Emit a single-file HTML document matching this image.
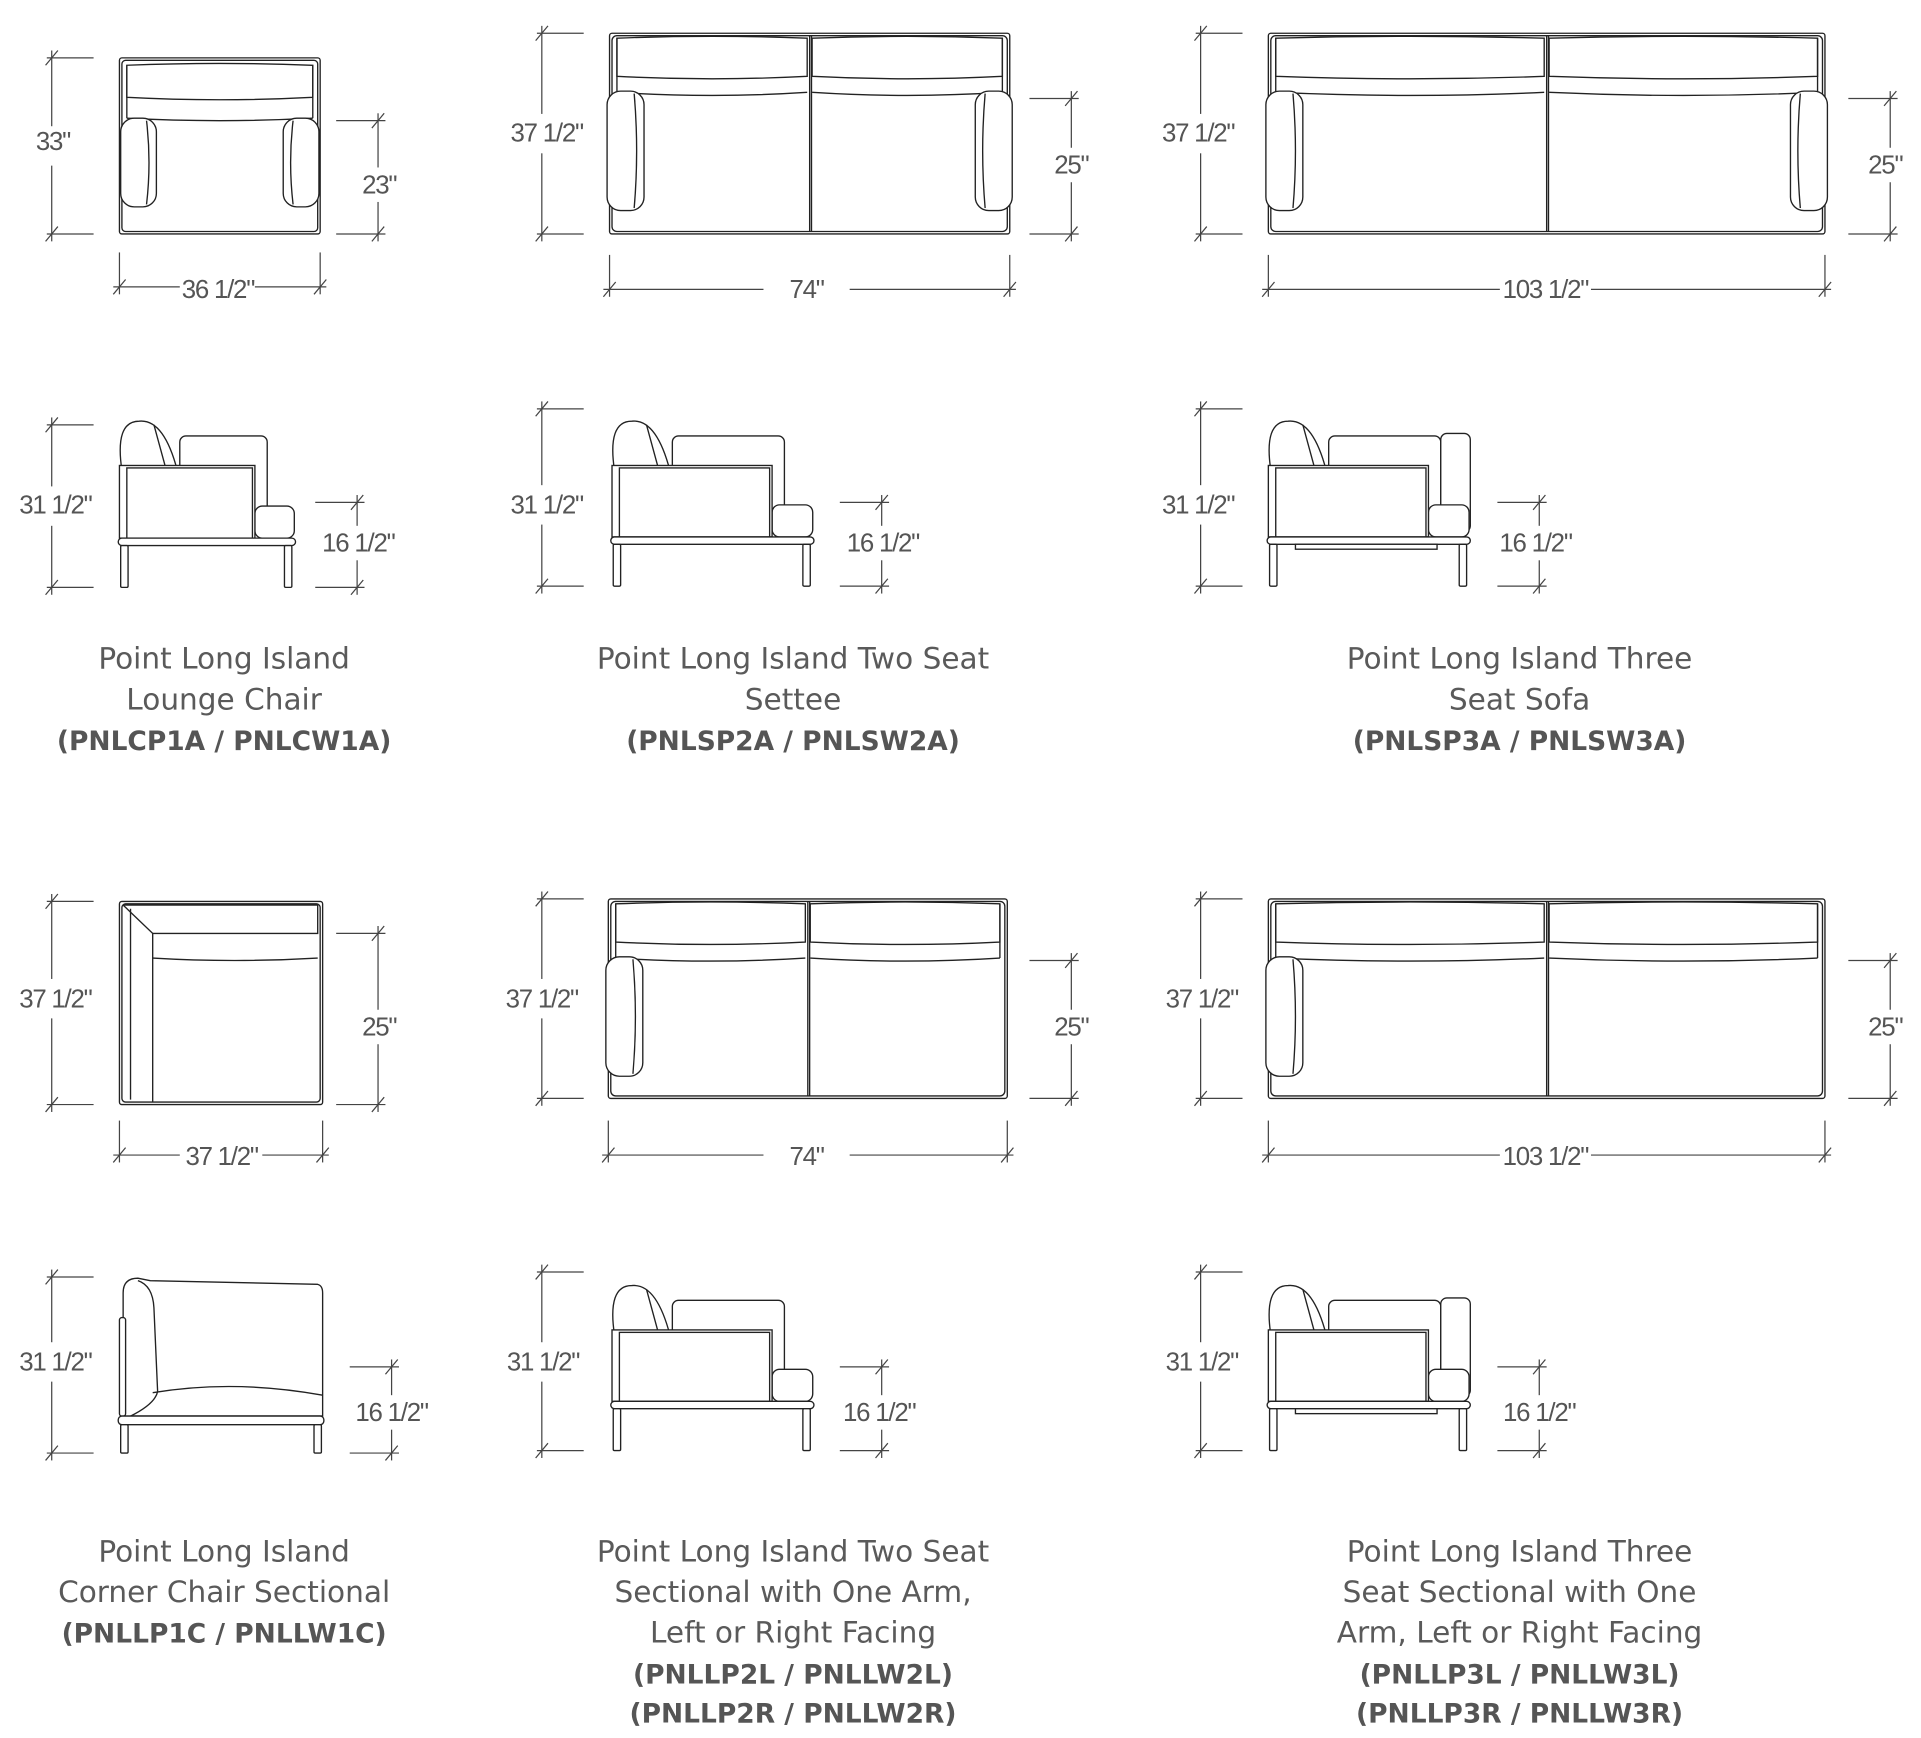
<!DOCTYPE html>
<html><head><meta charset="utf-8">
<style>
html,body{margin:0;padding:0;background:#fff;}
svg{display:block;}
.d{font-family:"Liberation Sans",sans-serif;font-size:21px;fill:#555;letter-spacing:-1px;}
.t{font-family:"DejaVu Sans","Liberation Sans",sans-serif;font-size:24px;fill:#5a5a5a;text-anchor:middle;}
.b{font-family:"DejaVu Sans","Liberation Sans",sans-serif;font-size:21.5px;fill:#555;font-weight:bold;text-anchor:middle;}
</style></head>
<body>
<svg id="s" width="1921" height="1738" viewBox="0 0 1560 1411.4" preserveAspectRatio="none" xmlns="http://www.w3.org/2000/svg">
<g id="shapes" fill="#fff" stroke="#222" stroke-width="1.1"></g>
<g id="dims" fill="none" stroke="#444" stroke-width="1"></g>
<g class="d">
<text x="43" y="122" text-anchor="middle">33"</text>
<text x="308" y="157" text-anchor="middle">23"</text>
<text x="177" y="242" text-anchor="middle">36 1/2"</text>
<text x="444" y="115" text-anchor="middle">37 1/2"</text>
<text x="870" y="141" text-anchor="middle">25"</text>
<text x="655" y="242" text-anchor="middle">74"</text>
<text x="973" y="115" text-anchor="middle">37 1/2"</text>
<text x="1531" y="141" text-anchor="middle">25"</text>
<text x="1255" y="242" text-anchor="middle">103 1/2"</text>

<text x="45" y="417" text-anchor="middle">31 1/2"</text>
<text x="291" y="448" text-anchor="middle">16 1/2"</text>
<text x="444" y="417" text-anchor="middle">31 1/2"</text>
<text x="717" y="448" text-anchor="middle">16 1/2"</text>
<text x="973" y="417" text-anchor="middle">31 1/2"</text>
<text x="1247" y="448" text-anchor="middle">16 1/2"</text>

<text x="45" y="818" text-anchor="middle">37 1/2"</text>
<text x="308" y="841" text-anchor="middle">25"</text>
<text x="180" y="946" text-anchor="middle">37 1/2"</text>
<text x="440" y="818" text-anchor="middle">37 1/2"</text>
<text x="870" y="841" text-anchor="middle">25"</text>
<text x="655" y="946" text-anchor="middle">74"</text>
<text x="976" y="818" text-anchor="middle">37 1/2"</text>
<text x="1531" y="841" text-anchor="middle">25"</text>
<text x="1255" y="946" text-anchor="middle">103 1/2"</text>

<text x="45" y="1113" text-anchor="middle">31 1/2"</text>
<text x="318" y="1154" text-anchor="middle">16 1/2"</text>
<text x="441" y="1113" text-anchor="middle">31 1/2"</text>
<text x="714" y="1154" text-anchor="middle">16 1/2"</text>
<text x="976" y="1113" text-anchor="middle">31 1/2"</text>
<text x="1250" y="1154" text-anchor="middle">16 1/2"</text>
</g>
<text class="t" x="182" y="543">Point Long Island</text>
<text class="t" x="182" y="576">Lounge Chair</text>
<text class="b" x="182" y="609">(PNLCP1A / PNLCW1A)</text>
<text class="t" x="644" y="543">Point Long Island Two Seat</text>
<text class="t" x="644" y="576">Settee</text>
<text class="b" x="644" y="609">(PNLSP2A / PNLSW2A)</text>
<text class="t" x="1234" y="543">Point Long Island Three</text>
<text class="t" x="1234" y="576">Seat Sofa</text>
<text class="b" x="1234" y="609">(PNLSP3A / PNLSW3A)</text>

<text class="t" x="182" y="1268">Point Long Island</text>
<text class="t" x="182" y="1301">Corner Chair Sectional</text>
<text class="b" x="182" y="1334">(PNLLP1C / PNLLW1C)</text>
<text class="t" x="644" y="1268">Point Long Island Two Seat</text>
<text class="t" x="644" y="1301">Sectional with One Arm,</text>
<text class="t" x="644" y="1334">Left or Right Facing</text>
<text class="b" x="644" y="1367">(PNLLP2L / PNLLW2L)</text>
<text class="b" x="644" y="1399">(PNLLP2R / PNLLW2R)</text>
<text class="t" x="1234" y="1268">Point Long Island Three</text>
<text class="t" x="1234" y="1301">Seat Sectional with One</text>
<text class="t" x="1234" y="1334">Arm, Left or Right Facing</text>
<text class="b" x="1234" y="1367">(PNLLP3L / PNLLW3L)</text>
<text class="b" x="1234" y="1399">(PNLLP3R / PNLLW3R)</text>
</svg>
<script>
var S=[],D=[];
function L(a,x1,y1,x2,y2){a.push('<line x1="'+x1+'" y1="'+y1+'" x2="'+x2+'" y2="'+y2+'"/>');}
function R(x,y,w,h,rx){S.push('<rect x="'+x+'" y="'+y+'" width="'+w+'" height="'+h+'" rx="'+(rx||0)+'"/>');}
function P(d,nf){S.push('<path d="'+d+'"'+(nf?' fill="none"':'')+'/>');}
function tick(x,y){L(D,x-5,y+6,x+5,y-6);}
function vdim(x,y1,y2,side,gc,gw){
  var e1=side=='L'?x-4:x-34, e2=side=='L'?x+34:x+6;
  L(D,e1,y1,e2,y1);L(D,e1,y2,e2,y2);
  gc=gc||(y1+y2)/2;gw=gw||16;
  L(D,x,y1-6,x,gc-gw);L(D,x,gc+gw,x,y2+6);tick(x,y1);tick(x,y2);
}
function hdim(y,x1,x2,g1,g2){
  L(D,x1,y-28,x1,y+6);L(D,x2,y-28,x2,y+6);
  L(D,x1-5,y,g1,y);L(D,g2,y,x2+5,y);tick(x1,y);tick(x2,y);
}
function arm(x,y,w,h,right){
  R(x,y,w,h,11);
  if(right){P('M'+(x+8)+' '+(y+2)+' Q'+(x+4)+' '+(y+h/2)+' '+(x+8)+' '+(y+h-2),1);}
  else{P('M'+(x+w-8)+' '+(y+2)+' Q'+(x+w-4)+' '+(y+h/2)+' '+(x+w-8)+' '+(y+h-2),1);}
}
function topSofa(x0,y0,w,h,n,arms){
  R(x0,y0,w,h,2);R(x0+2,y0+2,w-4,h-4,4);
  var cw=(w-8)/n;
  for(var i=0;i<n;i++){
    var cx=x0+4+i*cw;
    P('M'+(cx+2)+' '+(y0+4)+' Q'+(cx+cw/2)+' '+(y0+1)+' '+(cx+cw-2)+' '+(y0+4)+' L'+(cx+cw-2)+' '+(y0+35)+' Q'+(cx+cw/2)+' '+(y0+39)+' '+(cx+2)+' '+(y0+35)+' Z',1);
    P('M'+(cx+2)+' '+(y0+48)+' Q'+(cx+cw/2)+' '+(y0+53)+' '+(cx+cw-2)+' '+(y0+48),1);
    if(i>0){L(S,cx,y0+2,cx,y0+h-2);L(S,cx+1.5,y0+2,cx+1.5,y0+h-2);}
  }
  L(S,x0+6,y0+4,x0+6,y0+48);L(S,x0+w-6,y0+4,x0+w-6,y0+48);
  var ah=97;
  if(arms>0)arm(x0-2,y0+47,30,ah,false);
  if(arms>1)arm(x0+w-28,y0+47,30,ah,true);
}
R(97,47,163,143,2);R(99,49,159,139,3);
P('M103 53 Q178 50 254 53 L254 79 Q178 83 103 79 Z',1);
P('M103 96 Q178 100 254 96',1);L(S,103,53,103,96);L(S,254,53,254,96);
arm(98,96,29,72,false);arm(230,96,29,72,true);
topSofa(495,27,325,163,2,2);
topSofa(1030,27,452,163,2,2);
R(97,732,165,165,2);R(99,734,161,161,3);
P('M100 735 L124 758 L124 895',1);P('M100 735 L258 735 L258 758 L124 758',1);
P('M124 778 Q190 782 258 778',1);L(S,106,738,106,893);
topSofa(494,730,324,162,2,1);
topSofa(1030,730,452,162,2,1);

function side(x0,fw,tw,ft,fb,extra){
  var rail=fb-40;
  P('M'+(x0+2)+' '+(ft+4)+' Q'+(x0-4)+' '+(ft-36)+' '+(x0+16)+' '+(ft-36)+' Q'+(x0+36)+' '+(ft-38)+' '+(x0+47)+' '+(ft+4)+' Z');
  P('M'+(x0+28)+' '+(ft-33)+' L'+(x0+37)+' '+(ft),1);
  var cx=x0+49,cr=x0+fw+10;
  R(cx,ft-24,cr-cx,rail-ft-4+24,5);
  if(extra){R(cr,ft-26,24,rail-ft-4+26,5);}
  R(x0+fw,rail-26,tw-fw,26,6);
  R(x0,ft,fw,rail-ft);R(x0+6,ft+2,fw-8,rail-ft-2);
  R(x0-1,rail,tw+2,6,3);
  if(extra){R(x0+22,rail+6,tw-48,4);}
  R(x0+1,rail+6,6,fb-rail-6,1);R(x0+tw-8,rail+6,6,fb-rail-6,1);
}
side(97,110,142,378,477,false);
side(497,130,163,378,476,false);
side(1030,130,163,378,476,true);
side(497,130,163,1080,1178,false);
side(1030,130,163,1080,1178,true);
P('M100 1150 L100 1050 Q100 1038 112 1038 L122 1040 L258 1043 Q262 1044 262 1050 L262 1150 Z');
P('M112 1040 Q124 1044 125 1062 L128 1130 Q126 1140 106 1150',1);
P('M124 1131 Q190 1120 262 1133',1);L(S,106,1150,262,1150);
R(97,1070,5,80,2);
R(96,1150,167,7,3);R(98,1157,6,23,1);R(255,1157,6,23,1);

vdim(42,47,190,'L');vdim(307,98,190,'R',150,14);hdim(233,97,260,146,207);
vdim(440,27,190,'L');vdim(870,80,190,'R',134,14);hdim(235,495,820,620,690);
vdim(975,27,190,'L');vdim(1535,80,190,'R',134,14);hdim(235,1030,1482,1218,1292);
vdim(42,345,477,'L',411);vdim(290,408,477,'R',441,14);
vdim(440,332,476,'L',410);vdim(716,408,476,'R',441,14);
vdim(975,332,476,'L',410);vdim(1250,408,476,'R',441,14);
vdim(42,732,897,'L',811);vdim(307,758,897,'R',834,14);hdim(938,97,262,146,213);
vdim(440,730,892,'L',811);vdim(870,780,892,'R',834,14);hdim(938,494,818,620,690);
vdim(975,730,892,'L',811);vdim(1535,780,892,'R',834,14);hdim(938,1030,1482,1218,1292);
vdim(42,1037,1180,'L',1106);vdim(318,1110,1180,'R',1147,14);
vdim(440,1033,1178,'L',1106);vdim(716,1110,1178,'R',1147,14);
vdim(975,1033,1178,'L',1106);vdim(1250,1110,1178,'R',1147,14);
document.getElementById('shapes').innerHTML=S.join('');
document.getElementById('dims').innerHTML=D.join('');
</script>
</body></html>
